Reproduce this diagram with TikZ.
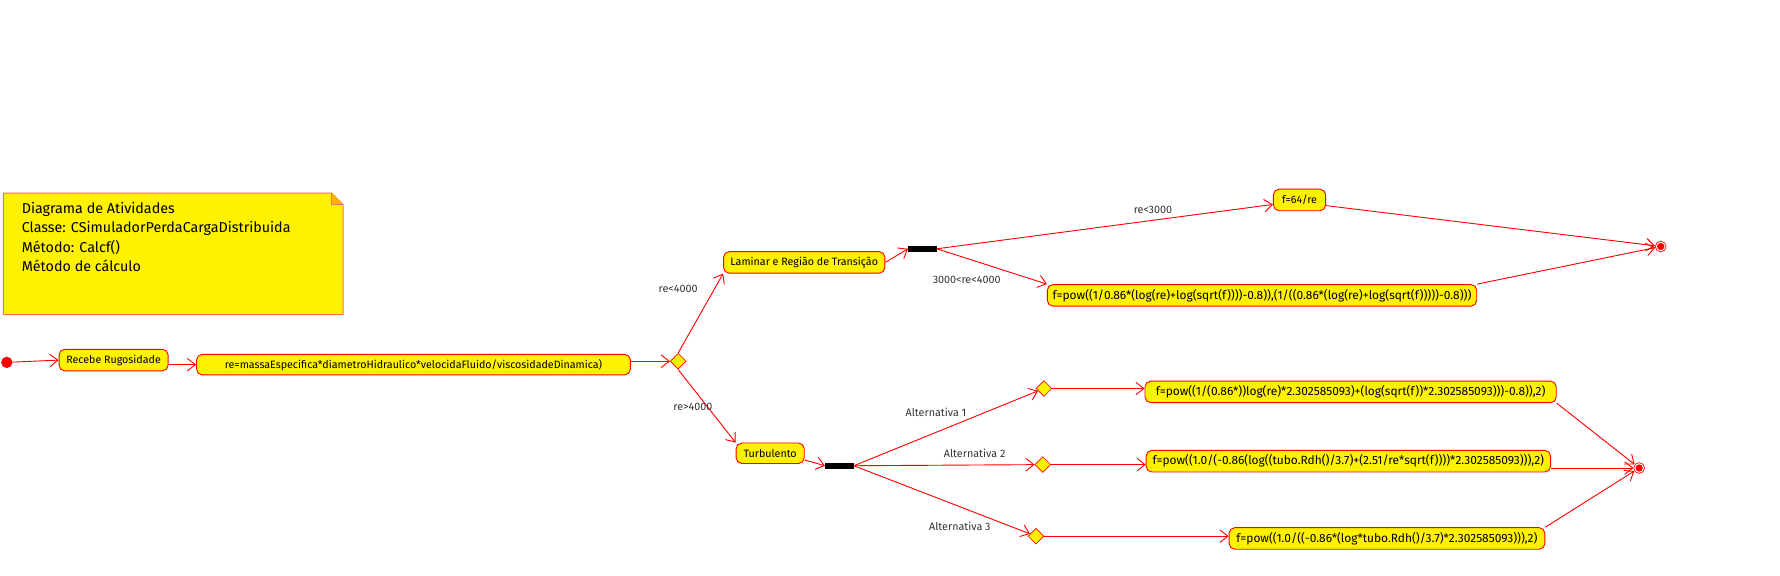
\documentclass[tikz,border=0pt]{standalone}
\usepackage{fontspec}
\setmainfont{Fira Sans}
\usetikzlibrary{arrows.meta,shapes.geometric}
\definecolor{notered}{HTML}{FF6F5F}
\definecolor{labelgray}{HTML}{333333}
\tikzset{
  act/.style={draw=red, fill=yellow, rounded corners=5pt, line width=0.8pt,
    minimum height=19pt, inner sep=2pt, font=\fontsize{9.4}{11}\selectfont},
  formula/.style={act, inner sep=1pt, font=\fontsize{10.5}{12}\selectfont},
  decision/.style={diamond, draw=red, fill=yellow, line width=0.6pt,
    minimum size=14pt, inner sep=0pt},
  forkbar/.style={rectangle, fill=black, minimum width=25pt,
    minimum height=5pt, inner sep=0pt},
  startnode/.style={circle, fill=red, minimum size=10pt, inner sep=0pt},
  endnode/.style={circle, draw=red, line width=0.6pt, minimum size=9.5pt,
    inner sep=0pt, path picture={\fill[red] (path picture bounding box.center) circle (3.2pt);}},
  guard/.style={text=labelgray, font=\fontsize{9.5}{11}\selectfont},
  arr/.style={red, line width=0.8pt, -{Straight Barb[length=7pt,width=11pt]}}
}
\begin{document}
\begin{tikzpicture}[x=1pt,y=-1pt]
    \useasboundingbox (0,0) rectangle (1567,507);

    % note
    \draw[notered, fill=yellow, line width=0.8pt]
        (3,170) -- (292,170) -- (302,180) -- (302,277) -- (3,277) -- cycle;
    \draw[notered, fill=orange!60!yellow, line width=0.6pt] (292,170) -- (292,180) -- (302,180);
    \node[anchor=north west, align=left, inner sep=0pt,
          font=\fontsize{12.6}{17}\selectfont] (note) at (19,178)
        {Diagrama de Atividades\\Classe: CSimuladorPerdaCargaDistribuida\\Método: Calcf()\\Método de cálculo};

    \node[startnode] (init) at (6,319) {};
    \node[act, minimum width=96pt] (rec) at (100,317) {Recebe Rugosidade};
    \node[act, minimum width=382pt, minimum height=18pt] (reeq) at (364,321)
        {re=massaEspecifica*diametroHidraulico*velocidaFluido/viscosidadeDinamica)};
    \node[decision] (dec) at (597,318) {};

    \node[act, minimum width=142pt] (lam) at (708,231) {Laminar e Região de Transição};
    \node[forkbar] (forkA) at (812,219) {};
    \node[act, minimum width=46pt] (f64) at (1144,176) {f=64/re};
    \node[formula, minimum width=378pt] (flong) at (1111,260)
        {f=pow((1/0.86*(log(re)+log(sqrt(f))))-0.8)),(1/((0.86*(log(re)+log(sqrt(f)))))-0.8)))};
    \node[endnode] (end1) at (1462,217) {};

    \node[act, minimum width=60pt, minimum height=18pt] (turb) at (678,399) {Turbulento};
    \node[forkbar] (forkB) at (739,410) {};
    \node[decision] (d1) at (919,342) {};
    \node[decision] (d2) at (918,409) {};
    \node[decision] (d3) at (912,472) {};
    \node[formula, minimum width=362pt] (fa1) at (1189,345)
        {f=pow((1/(0.86*))log(re)*2.302585093)+(log(sqrt(f))*2.302585093)))-0.8)),2)};
    \node[formula, minimum width=356pt] (fa2) at (1187,406)
        {f=pow((1.0/(-0.86(log((tubo.Rdh()/3.7)+(2.51/re*sqrt(f))))*2.302585093))),2)};
    \node[formula, minimum width=278pt] (fa3) at (1221,474)
        {f=pow((1.0/((-0.86*(log*tubo.Rdh()/3.7)*2.302585093))),2)};
    \node[endnode] (end2) at (1443,412) {};

    \draw[arr] (init) -- (rec.west);
    \draw[arr] (rec.east |- reeq.west) -- (reeq.west);
    \draw[arr] (reeq.east |- dec.west) -- (dec.west);
    \draw[arr] (dec.north) -- (lam.south west);
    \draw[arr] (dec.south) -- (turb.north west);
    \draw[arr] (lam.east) -- (forkA.west);
    \draw[arr] (forkA.east) -- ([yshift=-4pt]f64.west);
    \draw[arr] (forkA.east) -- (flong.north west);
    \draw[arr] ([yshift=-5pt]f64.east) -- (end1);
    \draw[arr] (flong.north east) -- (end1);
    \draw[arr] ([yshift=-6pt]turb.east) -- (forkB.west);
    \foreach \i in {1,2,3} {
        \draw[arr] (forkB.east) -- (d\i);
        \draw[arr] (d\i.east) -- (fa\i.west |- d\i.east);
    }
    \draw[arr] (fa1.south east) -- (end2);
    \draw[arr] (fa2.east |- end2) -- (end2);
    \draw[arr] (fa3.north east) -- (end2);

    % guards
    \node[guard] (g1) at (597,254) {re<4000};
    \node[guard] (g2) at (610,358) {re>4000};
    \node[guard] (g3) at (1015,185) {re<3000};
    \node[guard] (g4) at (851,246) {3000<re<4000};
    \node[guard] (g5) at (824,363) {Alternativa 1};
    \node[guard] (g6) at (858,399) {Alternativa 2};
    \node[guard] (g7) at (845,463) {Alternativa 3};
\end{tikzpicture}
\end{document}
